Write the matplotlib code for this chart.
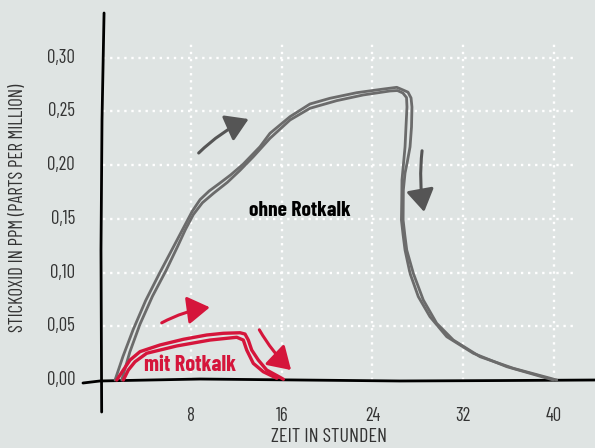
import matplotlib.pyplot as plt
from matplotlib import font_manager
from matplotlib.patches import FancyArrowPatch

# Werte (Stunden, ppm)
x_ticks = [8, 16, 24, 32, 40]
x_tick_labels = ['8', '16', '24', '32', '40']
y_ticks = [0.00, 0.05, 0.10, 0.15, 0.20, 0.25, 0.30]
y_tick_labels = ['0,00', '0,05', '0,10', '0,15', '0,20', '0,25', '0,30']

# ohne Rotkalk, zwei Striche
ohne_h1 = [1.30, 2.0, 2.9, 4.0, 5.2, 6.3, 7.3, 8.1, 8.8, 9.6, 10.5, 11.5,
           12.6, 14.08, 14.96, 16.73, 18.49, 20.25, 22.61, 24.96, 26.14,
           26.7, 27.13, 27.4, 27.48, 27.44, 27.31, 27.05, 26.87, 26.72, 26.7,
           26.85, 27.02, 27.60, 28.48, 29.66, 31.13, 33.48, 36.42, 40.25]
ohne_v1 = [0.0, 0.022, 0.047, 0.074, 0.099, 0.121, 0.141, 0.157, 0.168, 0.176,
           0.183, 0.191, 0.201, 0.2172, 0.2297, 0.2452, 0.2570, 0.2623,
           0.2675, 0.2709, 0.2725, 0.270, 0.268, 0.2626, 0.2542, 0.2356,
           0.2170, 0.2020, 0.1927, 0.1769, 0.149, 0.135, 0.1210, 0.0993,
           0.0745, 0.0528, 0.0372, 0.0217, 0.0109, 0.0]
ohne_h2 = [1.89, 2.6, 3.5, 4.6, 5.8, 6.8, 7.5, 8.2, 9.0, 10.0, 11.2, 12.3,
           13.49, 14.96, 16.73, 18.49, 20.85, 23.19, 25.55, 26.2, 26.68, 27.0,
           27.04, 26.95, 26.87, 26.6, 26.58, 26.55, 26.7, 26.87, 27.31, 28.04,
           29.07, 30.55, 32.89, 35.84, 39.95]
ohne_v2 = [0.0, 0.026, 0.052, 0.078, 0.102, 0.124, 0.140, 0.154, 0.165, 0.174,
           0.184, 0.195, 0.2079, 0.2250, 0.2421, 0.2530, 0.2601, 0.2654,
           0.2691, 0.2695, 0.2672, 0.2630, 0.2542, 0.2350, 0.2170, 0.1862,
           0.1676, 0.149, 0.135, 0.1210, 0.0993, 0.0776, 0.0589, 0.0403,
           0.0249, 0.0124, 0.0]

# mit Rotkalk, zwei Striche
mit_h1 = [1.45, 2.03, 2.62, 3.50, 5.26, 7.32, 9.38, 10.85, 12.32, 12.76, 13.05,
          13.35, 13.93, 14.67, 15.85, 16.14]
mit_v1 = [0.0, 0.0093, 0.0186, 0.0264, 0.0326, 0.0379, 0.0419, 0.0435, 0.0440,
          0.0428, 0.0372, 0.0279, 0.0186, 0.0093, 0.0025, 0.0007]
mit_h2 = [2.03, 2.47, 3.06, 4.09, 6.74, 9.67, 12.03, 12.61, 12.91, 13.49,
          14.37, 15.56]
mit_v2 = [0.0, 0.0093, 0.0170, 0.0249, 0.0317, 0.0372, 0.0398, 0.0372, 0.0279,
          0.0155, 0.0077, 0.0016]

bg = '#dfe4e3'
grey = '#6b6b6b'
red = '#d5153b'
txt = '#333333'

# schmale Schrift suchen, sonst DejaVu
available = {f.name for f in font_manager.fontManager.ttflist}
candidates = ['Barlow Condensed', 'Roboto Condensed', 'Open Sans Condensed',
              'Archivo Narrow', 'PT Sans Narrow', 'Saira Condensed',
              'Encode Sans Condensed', 'Oswald', 'Liberation Sans Narrow']
fams = [c for c in candidates if c in available][:1] + ['DejaVu Sans']
plt.rcParams['font.family'] = fams

fig = plt.figure(figsize=(5.95, 4.48), dpi=100)
fig.patch.set_facecolor(bg)
ax = fig.add_axes([0, 0, 1, 1])
ax.set_facecolor(bg)
ax.set_xlim(-8.845, 43.62)
ax.set_ylim(-0.0633, 0.3538)
ax.axis('off')

# gepunktetes Gitter
for y in y_ticks[1:]:
    ax.plot([0.2, 41.7], [y, y], color='white', lw=1.7, ls=(0, (1, 2)), zorder=1)
for x in x_ticks:
    ax.plot([x, x], [0.0, 0.313], color='white', lw=1.7, ls=(0, (1, 2)), zorder=1)

# handgezeichnete Achsen
ax.plot([0.33, 0.15, 0.06, 0.12], [0.3417, 0.2421, 0.121, -0.0298],
        color='black', lw=2, solid_capstyle='round', zorder=3)
ax.plot([-1.53, -0.03, 8.8, 17.6, 26.4, 35.2, 43.6],
        [-0.0028, -0.0009, 0.0009, 0.0, -0.0009, -0.0005, 0.0],
        color='black', lw=2, solid_capstyle='round', zorder=3)

# Kurven
for h, v in [(ohne_h1, ohne_v1), (ohne_h2, ohne_v2)]:
    ax.plot(h, v, color=grey, lw=2, solid_joinstyle='round',
            solid_capstyle='round', zorder=4)
for h, v in [(mit_h1, mit_v1), (mit_h2, mit_v2)]:
    ax.plot(h, v, color=red, lw=2.4, solid_joinstyle='round',
            solid_capstyle='round', zorder=4)

# Pfeile
arrows = [((8.5, 0.2095), (13.3, 0.244), '#555555', 'arc3,rad=-0.1'),
          ((28.4, 0.216), (28.6, 0.154), '#555555', 'arc3,rad=0.08'),
          ((5.2, 0.052), (9.9, 0.068), red, 'arc3,rad=-0.1'),
          ((13.9, 0.049), (17.0, 0.0075), red, 'arc3,rad=0.08')]
for tail, tip, c, cs in arrows:
    ax.add_patch(FancyArrowPatch(tail, tip, connectionstyle=cs,
                                 arrowstyle='-|>,head_length=0.8,head_width=0.5',
                                 mutation_scale=17, color=c, lw=2.2, zorder=5))

# Beschriftung
for y, lab in zip(y_ticks, y_tick_labels):
    ax.text(-2.23, y, lab, ha='right', va='center', fontsize=13.5, color=txt)
for x, lab in zip(x_ticks, x_tick_labels):
    ax.text(x, -0.0335, lab, ha='center', va='center', fontsize=13.5, color=txt)

ax.text(20.2, -0.0531, 'ZEIT IN STUNDEN', ha='center', va='center',
        fontsize=14.5, color=txt)
ax.text(-7.26, 0.160, 'STICKOXID IN PPM (PARTS PER MILLION)', ha='center',
        va='center', rotation=90, fontsize=13.5, color=txt)

ax.text(17.6, 0.158, 'ohne Rotkalk', ha='center', va='center', fontsize=15.5,
        fontweight='bold', color='black', zorder=6)
ax.text(7.95, 0.0140, 'mit Rotkalk', ha='center', va='center', fontsize=16,
        fontweight='bold', color=red, zorder=6)

fig.savefig('out.png', dpi=100, facecolor=bg)
